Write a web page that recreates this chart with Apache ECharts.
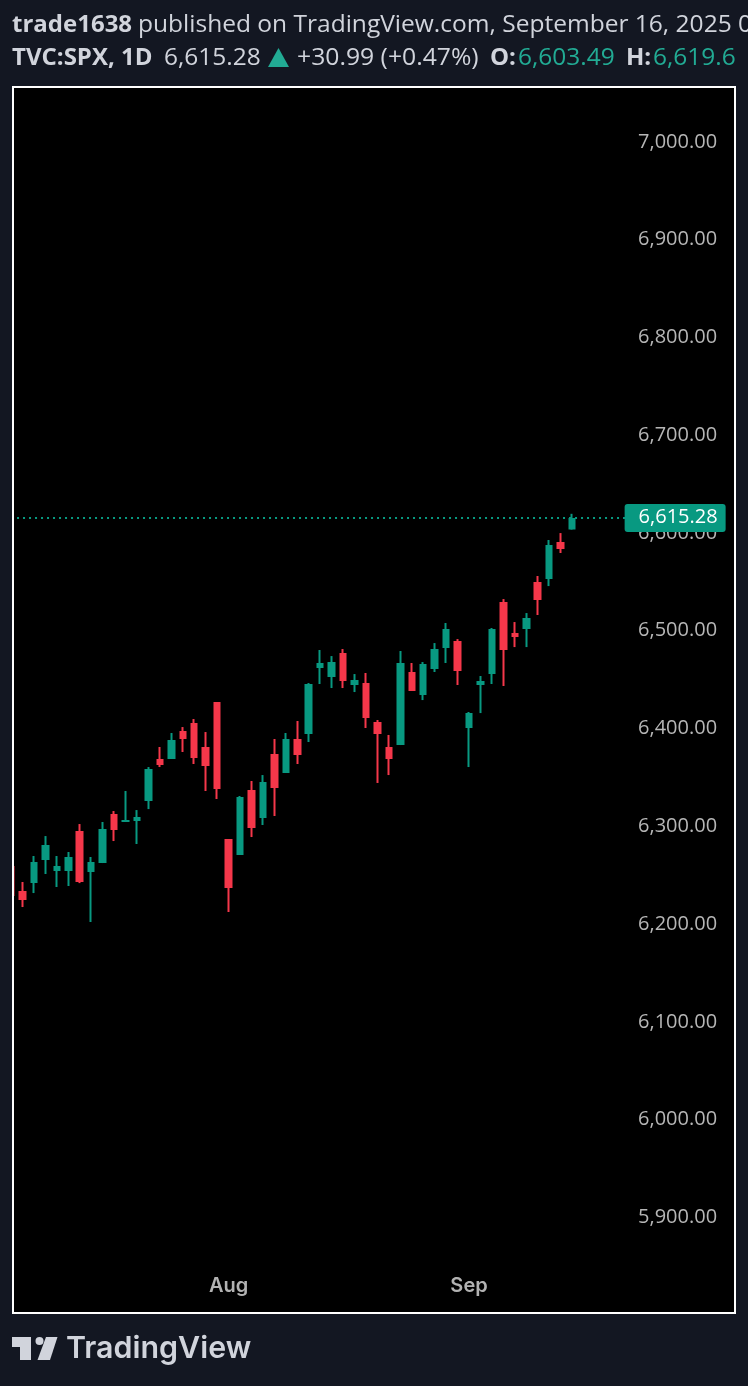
<!DOCTYPE html>
<html>
<head>
<meta charset="utf-8">
<script src="https://cdn.jsdelivr.net/npm/echarts@6/dist/echarts.min.js"></script>
<style>
html,body{margin:0;padding:0;background:#131722;}
#chart{width:748px;height:1386px;}
</style>
</head>
<body>
<div id="chart"></div>
<script>
var dates = ['Jul 7','Jul 8','Jul 9','Jul 10','Jul 11','Jul 14','Jul 15','Jul 16','Jul 17','Jul 18','Jul 21','Jul 22','Jul 23','Jul 24','Jul 25','Jul 28','Jul 29','Jul 30','Jul 31',
	'Aug 1','Aug 4','Aug 5','Aug 6','Aug 7','Aug 8','Aug 11','Aug 12','Aug 13','Aug 14','Aug 15','Aug 18','Aug 19','Aug 20','Aug 21','Aug 22','Aug 25','Aug 26','Aug 27','Aug 28','Aug 29',
	'Sep 2','Sep 3','Sep 4','Sep 5','Sep 8','Sep 9','Sep 10','Sep 11','Sep 12','Sep 15',
	'Sep 16','Sep 17','Sep 18','Sep 19','Sep 22','Sep 23','Sep 24','Sep 25','Sep 26','Sep 29','Sep 30','Oct 1','Oct 2','Oct 3'];

var opens = [6259.4,6233.8,6241.9,6265.5,6254.2,6254.2,6295.2,6253.2,6262.4,6312.5,6304.4,6305.4,6325.8,6368.8,6368.8,6397.4,6405.6,6381.1,6427.1,
	6287.0,6270.6,6337.1,6308.5,6373.9,6354.5,6389.3,6394.4,6461.9,6452.7,6477.2,6444.5,6446.5,6406.6,6381.1,6383.1,6457.8,6434.3,6460.8,6482.3,6489.5,
	6400.5,6444.5,6455.7,6529.4,6497.7,6501.8,6549.8,6552.9,6590.7,6603.49];
var closes = [6228.7,6224.6,6263.4,6280.8,6259.4,6268.6,6243.0,6263.4,6297.2,6296.2,6306.4,6309.5,6358.6,6362.7,6388.2,6389.3,6369.8,6361.6,6338.1,
	6236.9,6329.9,6298.2,6345.3,6339.1,6389.3,6372.9,6445.5,6467.0,6468.0,6448.6,6449.6,6410.7,6394.4,6368.8,6467.0,6438.4,6466.0,6481.3,6501.8,6458.8,
	6415.8,6448.6,6501.8,6480.3,6493.6,6513.0,6531.4,6587.7,6583.6,6615.28];
var lows = [6226.0,6217.4,6231.7,6251.2,6237.9,6238.9,6241.9,6202.1,6262.4,6284.9,6304.4,6281.9,6317.6,6360.6,6368.8,6376.0,6363.7,6336.1,6327.9,
	6212.3,6270.6,6289.0,6301.3,6310.5,6354.5,6363.7,6386.2,6445.5,6441.4,6441.4,6437.3,6400.5,6344.3,6352.4,6383.1,6438.4,6429.1,6457.8,6467.0,6444.5,
	6360.6,6415.8,6445.5,6443.5,6483.3,6483.3,6516.1,6545.7,6579.5,6603.49];
var highs = [6262.0,6243.0,6269.6,6290.0,6269.6,6273.7,6302.3,6268.6,6304.4,6315.6,6336.1,6316.6,6360.6,6381.1,6395.4,6401.5,6409.7,6396.4,6427.1,
	6287.0,6331.0,6346.3,6352.4,6389.3,6395.4,6407.7,6446.5,6480.3,6474.1,6481.3,6455.7,6456.8,6408.7,6393.4,6479.3,6467.0,6468.0,6487.4,6507.9,6491.5,
	6416.9,6453.7,6502.8,6532.4,6508.9,6518.1,6556.0,6592.8,6599.9,6619.6];

var monthLabels = {'Aug 1':'Aug','Sep 2':'Sep'};
var lastPrice = 6615.28;

var candles = dates.slice(0,opens.length).map(function(d,i){
	return [opens[i],closes[i],lows[i],highs[i]];
});

var upColor = '#089981', downColor = '#f5374a', pageBg = '#131722', textCol = '#d1d4dc', teal = '#22ab94';
var font = '"Open Sans"';

function money(v){
	return v.toFixed(2).replace(/\B(?=(\d{3})+\.)/g,',');
}
function txt(s,x,y,size,weight,fill,scale){
	return {type:'text',z:100,x:x,y:y,scaleX:scale||1,style:{text:s,x:0,y:0,fill:fill,verticalAlign:'middle',font:weight+' '+size+'px '+font}};
}
function strip(x,y,w,h){
	return {type:'rect',z:90,shape:{x:x,y:y,width:w,height:h},style:{fill:pageBg}};
}

var box = echarts.init(document.getElementById('chart'));
var option = {
	backgroundColor: pageBg,
	animation: false,
	grid: {left:5.3,top:44.13,width:732.8,height:1271,show:true,backgroundColor:'#000',borderWidth:0,containLabel:false},
	xAxis: {
		type:'category',
		data:dates,
		axisLine:{show:false},
		axisTick:{show:false},
		splitLine:{show:false},
		axisLabel:{
			inside:true,
			margin:19,
			color:'#b2b2b2',
			fontFamily:'Inter',
			fontWeight:600,
			fontSize:20,
			interval:function(i,v){ return !!monthLabels[v]; },
			formatter:function(v){ return monthLabels[v]||''; }
		}
	},
	yAxis: {
		type:'value',
		position:'right',
		min:5800,
		max:7100,
		interval:100,
		axisLine:{show:false},
		axisTick:{show:false},
		splitLine:{show:false},
		axisLabel:{
			inside:true,
			margin:21,
			color:'#b6b6b6',
			fontFamily:'Open Sans',
			fontSize:20,
			showMinLabel:false,
			showMaxLabel:false,
			formatter:money
		}
	},
	series: [
	{
		// wicks
		type:'candlestick',
		data:candles,
		barWidth:1,
		barMinWidth:0,
		silent:true,
		z:2,
		itemStyle:{color:upColor,color0:downColor,borderColor:upColor,borderColor0:downColor,borderWidth:2},
		markLine:{
			silent:true,
			symbol:'none',
			label:{show:false},
			lineStyle:{color:upColor,type:[2,4],width:2},
			data:[[{coord:['Jul 7',lastPrice]},{coord:['Sep 22',lastPrice]}]]
		}
	},
	{
		// bodies
		type:'candlestick',
		data:candles,
		barWidth:8,
		silent:true,
		z:3,
		itemStyle:{color:upColor,color0:downColor,borderColor:upColor,borderColor0:downColor,borderWidth:0},
		markPoint:{
			silent:true,
			symbol:'path://M3 0H98A3 3 0 0 1 101 3V25A3 3 0 0 1 98 28H3A3 3 0 0 1 0 25V3A3 3 0 0 1 3 0Z',
			symbolSize:[101,28],
			itemStyle:{color:upColor},
			label:{show:true,position:'inside',color:'#fff',fontFamily:'Open Sans',fontSize:20,offset:[3,-1],formatter:function(){ return money(lastPrice); }},
			data:[{coord:['Sep 26',lastPrice]}]
		}
	}
	],
	graphic: [
		strip(0,0,748,86),
		strip(0,1314,748,72),
		strip(0,0,12,1386),
		strip(736,0,12,1386),
		{type:'rect',z:95,shape:{x:13,y:87,width:722,height:1226},style:{fill:'none',stroke:'#fff',lineWidth:2}},
		txt('trade1638',12,25,24,700,textCol),
		txt('published on TradingView.com, September 16, 2025 0',138,25,24,400,textCol,1.022),
		txt('TVC:SPX, 1D',12,58,24,700,textCol),
		txt('6,615.28',164,58,24,400,textCol,1.02),
		{type:'polygon',z:100,shape:{points:[[278.5,48],[289,67],[268,67]]},style:{fill:teal}},
		txt('+30.99 (+0.47%)',297,58,24,400,textCol,1.03),
		txt('O:',490,58,24,700,textCol),
		txt('6,603.49',518,58,24,400,teal,1.02),
		txt('H:',626,58,24,700,textCol),
		txt('6,619.6',653,58,24,400,teal,1.02),
		// logo
		{type:'polygon',z:100,shape:{points:[[12,1337],[31,1337],[31,1360],[20,1360],[20,1347],[12,1347]]},style:{fill:textCol}},
		{type:'circle',z:100,shape:{cx:39.5,cy:1341,r:4},style:{fill:textCol}},
		{type:'polygon',z:100,shape:{points:[[46,1337],[57.5,1337],[50,1360],[37.5,1360]]},style:{fill:textCol}},
		{type:'text',z:100,x:66,y:1349,style:{text:'TradingView',x:0,y:0,fill:textCol,verticalAlign:'middle',font:'600 30.4px Inter'}}
	]
};
box.setOption(option);
</script>
</body>
</html>
